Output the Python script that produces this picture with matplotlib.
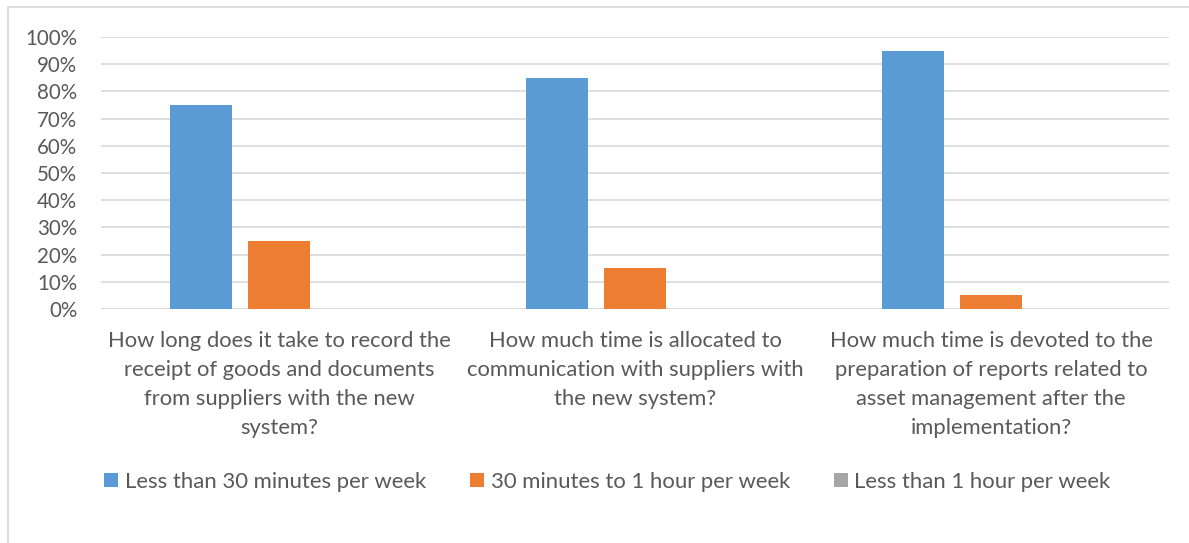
import matplotlib.pyplot as plt
import numpy as np
from matplotlib.patches import Rectangle
from matplotlib.ticker import PercentFormatter

questions = [
    "How long does it take to record the\nreceipt of goods and documents\nfrom suppliers with the new\nsystem?",
    "How much time is allocated to\ncommunication with suppliers with\nthe new system?",
    "How much time is devoted to the\npreparation of reports related to\nasset management after the\nimplementation?",
]
series_names = ["Less than 30 minutes per week", "30 minutes to 1 hour per week", "Less than 1 hour per week"]
less_30 = [75, 85, 95]
min30_to_1h = [25, 15, 5]
less_1h = [0, 0, 0]
colors = ["#5B9BD5", "#ED7D31", "#A5A5A5"]

plt.rcParams["font.family"] = ["Lato", "DejaVu Sans"]
text_col = "#595959"

fig = plt.figure(figsize=(11.89, 5.43), dpi=100)
ax = fig.add_axes([0.0849, 0.431, 0.8983, 0.5009])

x = np.arange(len(questions))
bw = 0.174
step = 0.219
for i, (vals, name) in enumerate(zip([less_30, min30_to_1h, less_1h], series_names)):
    ax.bar(x + (i - 1) * step, vals, width=bw, color=colors[i], label=name, zorder=3)

ax.set_xlim(-0.5, 2.5)
ax.set_ylim(0, 100)
ax.set_yticks(range(0, 101, 10))
ax.yaxis.set_major_formatter(PercentFormatter(decimals=0))
ax.grid(axis="y", color="#D9D9D9", linewidth=1.2, zorder=0)
for s in ax.spines.values():
    s.set_visible(False)
ax.axhline(0, color="#D9D9D9", linewidth=1.2, zorder=2)

ax.set_xticks(x)
ax.set_xticklabels(questions, fontsize=15.8, color=text_col, linespacing=1.55, ha="center")
ax.tick_params(axis="x", length=0, pad=16)
ax.tick_params(axis="y", length=0, pad=17, labelsize=14.8, labelcolor=text_col)

leg = fig.legend(loc="center", bbox_to_anchor=(0.511, 0.113), ncol=3, frameon=False,
                 fontsize=15.9, handlelength=0.62, handleheight=0.62, handletextpad=0.3,
                 columnspacing=2.0)
for t in leg.get_texts():
    t.set_color(text_col)

# light chart border
fig.patches.append(Rectangle((8 / 1189, -0.1), 1.2, 1.1 - 7 / 543, transform=fig.transFigure,
                             fill=False, edgecolor="#D9D9D9", linewidth=1.2))

plt.savefig("out.png", dpi=100)
